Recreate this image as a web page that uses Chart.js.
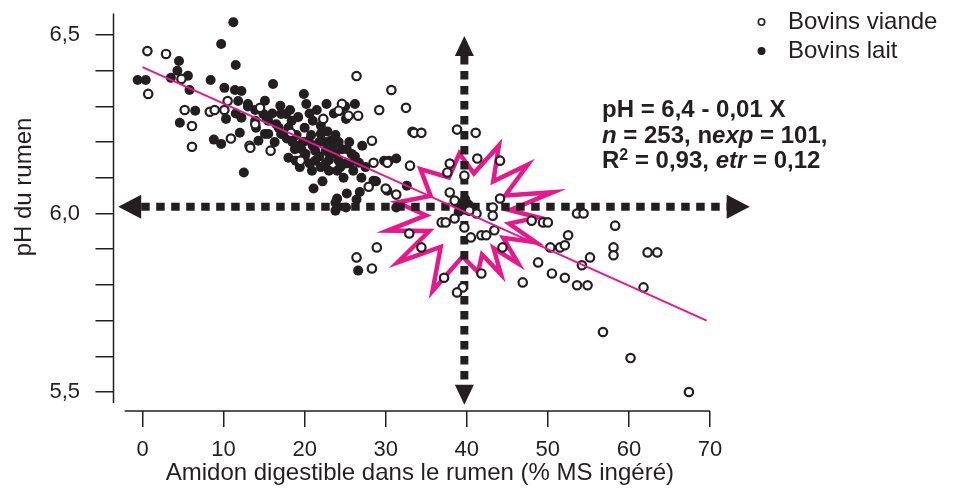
<!DOCTYPE html>
<html lang="fr">

<head>
    <meta charset="UTF-8">
    <title>pH du rumen et amidon digestible</title>
    <script src="https://cdn.jsdelivr.net/npm/chart.js"></script>
    <style>
        body {
            margin: 0;
            background: #fff;
        }

        .container {
            position: relative;
            width: 955px;
            height: 488px;
        }
    </style>
</head>

<body>
    <div class="container">
        <canvas id="grafico"></canvas>
    </div>
    <script>
        // Bovins viande (cercles vides)
        const viandeX = [0.6, 2.9, 0.7, 5.2, 6.1, 6.1, 8.3, 8.9, 4.8, 10.5,
            10.9, 13.2, 10.1, 13.9, 14.5, 26.4, 30.7, 32.5, 29.2, 24.6,
            25.4, 26.6, 24.2, 33.3, 28.3, 22.3, 15.8, 13.3, 28.5, 30.2,
            33.0, 27.9, 30.0, 31.3, 19.5, 18.3, 33.5, 34.4, 38.8, 41.1,
            37.9, 41.3, 44.1, 37.9, 44.1, 43.2, 43.2, 36.9, 37.4, 38.5,
            41.2, 39.7, 40.5, 41.8, 42.4, 43.4, 44.4, 48.0, 49.4, 50.0,
            52.5, 53.6, 54.4, 58.3, 58.1, 58.1, 62.3, 63.5, 32.9, 34.4,
            28.9, 26.4, 28.3, 37.2, 39.5, 38.8, 41.8, 46.9, 48.8, 50.5,
            52.1, 53.6, 54.9, 54.2, 55.2, 50.3, 51.5, 52.1, 61.8, 56.8,
            60.2, 67.4, 38.5, 40.3, 37.6, 39.7];
        const viandeY = [6.455, 6.447, 6.335, 6.290, 6.245, 6.187, 6.285, 6.290, 6.377, 6.315,
            6.210, 6.190, 6.290, 6.250, 6.296, 6.385, 6.346, 6.296, 6.290, 6.307,
            6.274, 6.274, 6.288, 6.229, 6.204, 6.265, 6.176, 6.184, 6.142, 6.142,
            6.134, 6.075, 6.070, 6.053, 6.148, 6.226, 6.226, 6.226, 6.235, 6.226,
            6.140, 6.154, 6.148, 6.059, 6.042, 6.017, 5.994, 5.975, 5.975, 5.986,
            6.000, 5.961, 5.933, 5.939, 5.939, 5.953, 5.905, 5.980, 5.975, 5.975,
            5.939, 6.000, 6.000, 5.966, 5.905, 5.883, 5.891, 5.891, 5.944, 5.905,
            5.905, 5.877, 5.846, 5.820, 5.793, 5.779, 5.832, 5.807, 5.863, 5.832,
            5.820, 5.799, 5.799, 5.855, 5.877, 5.905, 5.905, 5.911, 5.793, 5.668,
            5.595, 5.500, 6.036, 6.008, 6.115, 6.106];

        // Bovins lait (points pleins)
        const laitX = [-0.6, 0.4, 4.5, 4.3, 3.5, 5.6, 5.8, 6.5, 4.6, 8.4,
            9.7, 11.2, 11.5, 10.1, 11.4, 12.2, 11.8, 10.3, 8.8, 9.7,
            12.0, 12.5, 13.0, 13.9, 15.1, 15.3, 15.1, 11.5, 12.2, 16.1,
            19.9, 17.0, 20.2, 22.7, 26.2, 24.4, 25.1, 27.1, 26.7, 25.1,
            24.0, 23.0, 20.9, 18.0, 21.1, 24.0, 25.2, 26.4, 23.8, 25.1,
            31.3, 28.8, 30.4, 31.3, 22.0, 22.0, 23.2, 20.5, 19.2, 20.1,
            21.3, 22.6, 23.8, 24.2, 25.8, 18.4, 17.1, 15.5, 13.9, 15.5,
            17.1, 14.3, 18.9, 21.3, 22.6, 17.7, 14.9, 13.0, 26.6, 29.8,
            28.5, 30.2, 23.8, 32.6, 38.8, 39.5, 40.2, 39.0, 40.6, 39.8,
            19.0, 20.0, 21.0, 18.5, 19.6, 22.5, 23.5, 24.6, 25.5, 21.8,
            23.0, 19.4, 20.6, 24.8, 26.0, 27.5, 22.2, 16.5, 18.0, 16.3,
            23.6, 25.0, 21.5, 14.0, 16.8, 17.8, 18.8, 19.8, 20.8, 21.8,
            22.8, 23.8, 24.2, 25.2, 26.2, 20.0, 21.0, 22.0, 23.0, 24.4,
            25.6, 19.2, 18.2, 20.6, 16.0, 27.0, 26.8];
        const laitY = [6.374, 6.374, 6.427, 6.400, 6.380, 6.386, 6.346, 6.288, 6.254, 6.374,
            6.475, 6.536, 6.416, 6.352, 6.346, 6.343, 6.315, 6.265, 6.207, 6.195,
            6.226, 6.115, 6.300, 6.290, 6.316, 6.268, 6.223, 6.280, 6.268, 6.363,
            6.335, 6.302, 6.307, 6.307, 6.307, 6.288, 6.265, 6.190, 6.142, 6.140,
            6.120, 6.120, 6.120, 6.156, 6.070, 6.042, 6.056, 6.039, 6.008, 6.017,
            6.017, 6.090, 6.148, 6.154, 6.246, 6.223, 6.204, 6.204, 6.190, 6.167,
            6.176, 6.176, 6.167, 6.148, 6.167, 6.260, 6.279, 6.260, 6.260, 6.223,
            6.223, 6.204, 6.148, 6.148, 6.140, 6.279, 6.279, 6.307, 5.840, 6.148,
            6.092, 6.064, 6.030, 6.078, 6.030, 6.017, 6.025, 6.005, 6.010, 6.040,
            6.220, 6.240, 6.260, 6.200, 6.180, 6.200, 6.190, 6.180, 6.200, 6.160,
            6.150, 6.130, 6.140, 6.100, 6.120, 6.130, 6.090, 6.250, 6.240, 6.200,
            6.280, 6.300, 6.290, 6.240, 6.240, 6.210, 6.180, 6.200, 6.220, 6.200,
            6.230, 6.220, 6.200, 6.180, 6.160, 6.160, 6.190, 6.130, 6.170, 6.130,
            6.140, 6.270, 6.290, 6.280, 6.280, 6.100, 6.060];

        // droite de régression pH = 6,4 - 0,01 X
        const droiteX = [0, 69.6];
        const droiteY = [6.41, 5.70];

        // graduations
        const yEtiquettes = [5.5, 6.0, 6.5];
        const equation = [
            [['pH = 6,4 - 0,01 X', 'b']],
            [['n', 'bi'], [' = 253, n', 'b'], ['exp', 'bi'], [' = 101,', 'b']],
            [['R', 'b'], ['2', 'sup'], [' = 0,93, ', 'b'], ['etr', 'bi'], [' = 0,12', 'b']]
        ];

        // repères dessinés par-dessus : flèches, étoile
        const flecheH = { y: 6.019, x1: -3.0, x2: 74.9 };
        const flecheV = { x: 39.7, y1: 5.464, y2: 6.497 };
        const etoile = { x: 40.15, y: 5.996 };

        const INK = '#231f20';
        const ROSE = '#e8178a';
        const FONT = "'Liberation Sans', Arial, Helvetica, sans-serif";

        const pts = (xs, ys) => xs.map((x, i) => ({ x: x, y: ys[i] }));

        function fleche(ctx, x1, y1, x2, y2, len, half) {
            const L = Math.hypot(x2 - x1, y2 - y1);
            const ux = (x2 - x1) / L, uy = (y2 - y1) / L;
            const nx = -uy, ny = ux;
            ctx.save();
            ctx.strokeStyle = INK;
            ctx.lineWidth = 8;
            ctx.setLineDash([8.5, 6.5]);
            ctx.beginPath();
            ctx.moveTo(x1 + ux * len, y1 + uy * len);
            ctx.lineTo(x2 - ux * len, y2 - uy * len);
            ctx.stroke();
            ctx.restore();
            ctx.fillStyle = INK;
            [[x1, y1, 1], [x2, y2, -1]].forEach(([tx, ty, s]) => {
                const bx = tx + s * ux * len, by = ty + s * uy * len;
                ctx.beginPath();
                ctx.moveTo(tx, ty);
                ctx.lineTo(bx + nx * half, by + ny * half);
                ctx.lineTo(bx - nx * half, by - ny * half);
                ctx.closePath();
                ctx.fill();
            });
        }

        const decor = {
            id: 'decor',
            beforeDatasetsDraw(chart) {
                const { ctx, scales: { x, y } } = chart;
                ctx.save();
                // étoile rose
                const cx = x.getPixelForValue(etoile.x), cy = y.getPixelForValue(etoile.y);
                const pointes = [[-66, 76], [-40, 78], [-15, 88], [2, 70], [22, 73], [44, 70], [61, 68],
                    [80, 58], [115, 84], [146, 85], [169, 82], [190, 72], [224, 66], [262, 62]];
                ctx.beginPath();
                pointes.forEach(([a, r], i) => {
                    const suivant = pointes[(i + 1) % pointes.length][0] + (i === pointes.length - 1 ? 360 : 0);
                    const m = (a + suivant) / 2;
                    const ar = a * Math.PI / 180, mr = m * Math.PI / 180;
                    if (i === 0) ctx.moveTo(cx + r * Math.cos(ar), cy + r * Math.sin(ar));
                    else ctx.lineTo(cx + r * Math.cos(ar), cy + r * Math.sin(ar));
                    ctx.lineTo(cx + 42 * Math.cos(mr), cy + 42 * Math.sin(mr));
                });
                ctx.closePath();
                ctx.strokeStyle = ROSE;
                ctx.lineWidth = 4.5;
                ctx.lineJoin = 'miter';
                ctx.miterLimit = 20;
                ctx.stroke();

                // flèches pointillées
                const hy = y.getPixelForValue(flecheH.y);
                fleche(ctx, x.getPixelForValue(flecheH.x1), hy, x.getPixelForValue(flecheH.x2), hy, 23, 12);
                const vx = x.getPixelForValue(flecheV.x);
                fleche(ctx, vx, y.getPixelForValue(flecheV.y2), vx, y.getPixelForValue(flecheV.y1), 20, 9.5);
                ctx.restore();
            },
            afterDraw(chart) {
                const { ctx, scales: { x, y } } = chart;
                ctx.save();
                // axes détachés
                ctx.strokeStyle = INK;
                ctx.lineWidth = 1.5;
                ctx.beginPath();
                const ax = chart.chartArea.left;
                ctx.moveTo(ax, y.getPixelForValue(6.56));
                ctx.lineTo(ax, y.getPixelForValue(5.469));
                const ay = chart.chartArea.bottom;
                ctx.moveTo(x.getPixelForValue(-2.2), ay);
                ctx.lineTo(x.getPixelForValue(70), ay);
                ctx.stroke();

                // titre de l'axe Y
                ctx.fillStyle = INK;
                ctx.font = '24px ' + FONT;
                ctx.textAlign = 'center';
                ctx.textBaseline = 'middle';
                ctx.save();
                ctx.translate(24, 187);
                ctx.rotate(-Math.PI / 2);
                ctx.fillText('pH du rumen', 0, 0);
                ctx.restore();

                // légende
                ctx.textAlign = 'left';
                chart.data.datasets.filter(d => d.enLegende).forEach((d, i) => {
                    const ly = 22 + i * 29;
                    ctx.beginPath();
                    ctx.arc(761.5, ly, 3.2, 0, Math.PI * 2);
                    ctx.fillStyle = d.pointBackgroundColor;
                    ctx.fill();
                    ctx.lineWidth = 1.6;
                    ctx.strokeStyle = d.pointBorderColor;
                    ctx.stroke();
                    ctx.fillStyle = INK;
                    ctx.font = '24px ' + FONT;
                    ctx.fillText(d.label, 788, ly);
                });

                // équation
                ctx.textBaseline = 'alphabetic';
                equation.forEach((ligne, i) => {
                    let tx = 602;
                    const ty = 117 + i * 25.7;
                    ligne.forEach(([txt, st]) => {
                        let dy = 0;
                        if (st === 'b') ctx.font = 'bold 24px ' + FONT;
                        else if (st === 'bi') ctx.font = 'italic bold 24px ' + FONT;
                        else { ctx.font = 'bold 16px ' + FONT; dy = -8; }
                        ctx.fillText(txt, tx, ty + dy);
                        tx += ctx.measureText(txt).width;
                    });
                });
                ctx.restore();
            }
        };

        document.addEventListener('DOMContentLoaded', function () {
            const ctx = document.getElementById('grafico').getContext('2d');
            new Chart(ctx, {
                type: 'scatter',
                data: {
                    datasets: [
                        {
                            type: 'line',
                            label: 'Régression',
                            data: pts(droiteX, droiteY),
                            borderColor: ROSE,
                            borderWidth: 2,
                            pointRadius: 0,
                            fill: false,
                            clip: false
                        },
                        {
                            label: 'Bovins viande',
                            enLegende: true,
                            data: pts(viandeX, viandeY),
                            pointRadius: 4.2,
                            pointBorderWidth: 2.2,
                            pointBackgroundColor: '#ffffff',
                            pointBorderColor: INK,
                            clip: false
                        },
                        {
                            label: 'Bovins lait',
                            enLegende: true,
                            data: pts(laitX, laitY),
                            pointRadius: 5,
                            pointBorderWidth: 0,
                            pointBackgroundColor: INK,
                            pointBorderColor: INK,
                            clip: false
                        }
                    ]
                },
                options: {
                    responsive: true,
                    maintainAspectRatio: false,
                    animation: false,
                    layout: {
                        padding: { top: 13.6, right: 228.8, bottom: 0, left: 0 }
                    },
                    plugins: {
                        legend: { display: false },
                        tooltip: { enabled: false }
                    },
                    scales: {
                        x: {
                            type: 'linear',
                            min: -3.58,
                            max: 72,
                            afterFit: s => { s.height = 77.1; s.paddingLeft = 0; s.paddingRight = 0; },
                            border: { display: false },
                            grid: {
                                drawOnChartArea: false,
                                drawTicks: true,
                                tickLength: 16,
                                color: INK,
                                lineWidth: 1.5
                            },
                            ticks: {
                                stepSize: 10,
                                includeBounds: false,
                                autoSkip: false,
                                maxRotation: 0,
                                padding: 10,
                                color: INK,
                                font: { family: FONT, size: 22 },
                                callback: v => String(v)
                            },
                            title: {
                                display: true,
                                text: 'Amidon digestible dans le rumen (% MS ingéré)',
                                color: INK,
                                font: { family: FONT, size: 24 },
                                padding: { top: 0, bottom: 0 }
                            }
                        },
                        y: {
                            type: 'linear',
                            min: 5.447,
                            max: 6.56,
                            afterFit: s => { s.width = 113.5; s.paddingTop = 0; s.paddingBottom = 0; },
                            border: { display: false },
                            grid: {
                                drawOnChartArea: false,
                                drawTicks: true,
                                tickLength: 18,
                                color: INK,
                                lineWidth: 1.5
                            },
                            ticks: {
                                stepSize: 0.1,
                                includeBounds: false,
                                autoSkip: false,
                                padding: 15.5,
                                color: INK,
                                font: { family: FONT, size: 22 },
                                callback: v => yEtiquettes.some(e => Math.abs(e - v) < 1e-6) ? v.toFixed(1).replace('.', ',') : ''
                            }
                        }
                    }
                },
                plugins: [decor]
            });
        });
    </script>
</body>

</html>
